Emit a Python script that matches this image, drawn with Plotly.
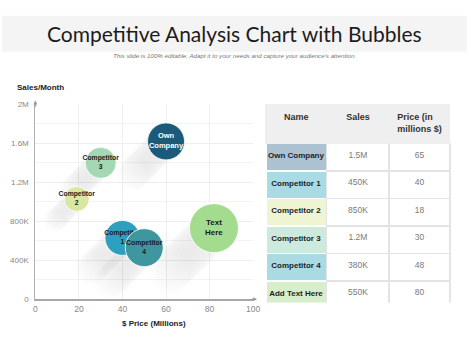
import plotly.graph_objects as go

# ---------------- data ----------------
names = ["Own Company", "Competitor 3", "Competitor 2", "Text Here", "Competitor 1", "Competitor 4"]
bubble_labels = ["Own<br>Company", "Competitor<br>3", "Competitor<br>2", "Text<br>Here", "Competitor<br>1", "Competitor<br>4"]
price = [60, 30, 19, 82, 40, 50]
sales = [1620000, 1400000, 1030000, 730000, 630000, 530000]
bubble_size = [37, 31, 25, 49, 35, 38]
bubble_colors = ["#1b5a78", "#a3d8b3", "#d8e8a2", "#a3dc8e", "#2f9fbf", "#3e979f"]
label_colors = ["white", "#1a1a1a", "#1a1a1a", "#1a1a1a", "#1a1a1a", "#1a1a1a"]
label_sizes = [7.5, 6.8, 6.8, 8, 6.8, 6.8]

x_ticks = [0, 20, 40, 60, 80, 100]
y_ticks = [0, 400000, 800000, 1200000, 1600000, 2000000]
y_tick_text = ["0", "400K", "800K", "1.2M", "1.6M", "2M"]

table_names = ["Own Company", "Competitor 1", "Competitor 2", "Competitor 3", "Competitor 4", "Add Text Here"]
table_sales = ["1.5M", "450K", "850K", "1.2M", "380K", "550K"]
table_price = ["65", "40", "18", "30", "48", "80"]
table_name_colors = ["#adc2d1", "#a8dbe4", "#eff4d3", "#cdeadf", "#abdbe2", "#d6eecb"]
table_headers = ["Name", "Sales", "Price (in<br>millions $)"]

W, H = 474, 355
FONT = "Liberation Sans, Arial, sans-serif"
NB = "\u00a0"

fig = go.Figure()

# long shadows (drawn first, under bubbles)
px_x = 100 / 222.0      # data units per pixel on x
px_y = 2000000 / 200.0  # data units per pixel on y
for i in range(len(names)):
    sx, sy = [], []
    steps = 14
    step_px = bubble_size[i] * 0.065
    for k in range(1, steps + 1):
        sx.append(price[i] - k * step_px * px_x)
        sy.append(sales[i] - k * step_px * px_y)
    fig.add_trace(go.Scatter(
        x=sx, y=sy, mode="markers", hoverinfo="skip", showlegend=False,
        marker=dict(size=bubble_size[i] * 0.88, color="rgba(150,150,150,0.022)", line=dict(width=0)),
        cliponaxis=False,
    ))

for i in range(len(names)):
    fig.add_trace(go.Scatter(
        x=[price[i]], y=[sales[i]], mode="markers+text", showlegend=False,
        text=["<b>" + bubble_labels[i] + "</b>"], textposition="middle center",
        textfont=dict(family=FONT, size=label_sizes[i], color=label_colors[i]),
        marker=dict(size=bubble_size[i], color=bubble_colors[i], opacity=1,
                    line=dict(width=1, color="rgba(255,255,255,0.8)")),
        name=names[i], cliponaxis=False,
    ))

fig.add_trace(go.Table(
    domain=dict(x=[269 / W, 457 / W], y=[1 - 307 / H, 1 - 103 / H]),
    columnwidth=[62, 64, 62],
    header=dict(
        values=["<b>" + h + "</b>" for h in table_headers],
        fill_color="#efefef", line=dict(color="#efefef", width=1),
        align="center", height=39,
        font=dict(family=FONT, size=9, color="#333333"),
    ),
    cells=dict(
        values=[["<b>" + n.replace(" ", NB) + "</b>" for n in table_names], table_sales, table_price],
        fill_color=[table_name_colors, ["white"] * 6, ["white"] * 6],
        line=dict(color=["white", "#e3e3e3", "#e3e3e3"], width=1.5),
        align="center", height=27.5,
        font=dict(family=FONT, size=[8, 8.5, 8.5], color=["#1e1e1e", "#7a7a7a", "#7a7a7a"]),
    ),
))

fig.update_layout(
    width=W, height=H,
    margin=dict(l=0, r=0, t=0, b=0),
    paper_bgcolor="white", plot_bgcolor="white",
    font=dict(family=FONT),
    xaxis=dict(
        domain=[34 / W, 256 / W], range=[0, 100],
        tickvals=x_ticks, ticktext=[str(v) for v in x_ticks],
        tickfont=dict(size=8.5, color="#888888"),
        showgrid=True, gridcolor="#eeeeee", gridwidth=1,
        showline=True, linecolor="#a8a8a8", linewidth=2,
        zeroline=False, ticks="", fixedrange=True,
    ),
    yaxis=dict(
        domain=[1 - 303 / H, 1 - 103 / H], range=[0, 2000000],
        tickvals=y_ticks, ticktext=y_tick_text,
        tickfont=dict(size=8, color="#888888"),
        showgrid=True, gridcolor="#eeeeee", gridwidth=1,
        minor=dict(showgrid=True, gridcolor="#f3f3f3", dtick=200000),
        showline=True, linecolor="#b0b0b0", linewidth=1,
        zeroline=False, ticks="", ticklabelstandoff=4, fixedrange=True,
    ),
    shapes=[
        dict(type="rect", xref="paper", yref="paper", x0=0, x1=1,
             y0=1 - 49 / H, y1=1 - 12 / H, fillcolor="#f4f4f4", line=dict(width=0), layer="below"),
    ],
    annotations=[
        dict(text="Competitive Analysis Chart with Bubbles", xref="paper", yref="paper",
             x=0.5, y=1 - 30 / H, showarrow=False, xanchor="center", yanchor="middle",
             font=dict(family="Lato, " + FONT, size=21, color="#1c1c1c")),
        dict(text="<i>This slide is 100% editable. Adapt it to your needs and capture your audience's attention.</i>",
             xref="paper", yref="paper", x=0.5, y=1 - 53 / H, showarrow=False,
             xanchor="center", yanchor="middle",
             font=dict(family=FONT, size=6.2, color="#777777")),
        dict(text="<b>Sales/Month</b>", xref="paper", yref="paper", x=13 / W, y=1 - 86 / H,
             showarrow=False, xanchor="left", yanchor="middle",
             font=dict(family=FONT, size=8, color="#222222")),
        dict(text="<b>$ Price (Millions)</b>", xref="paper", yref="paper", x=155 / W, y=1 - 328 / H,
             showarrow=False, xanchor="center", yanchor="middle",
             font=dict(family=FONT, size=8, color="#222222")),
        dict(text="", xref="paper", yref="paper", x=34 / W, y=1 - 99 / H, ax=0, ay=8,
             showarrow=True, arrowhead=2, arrowsize=0.8, arrowwidth=1, arrowcolor="#999999"),
        dict(text="", xref="paper", yref="paper", x=260 / W, y=1 - 303 / H, ax=-8, ay=0,
             showarrow=True, arrowhead=2, arrowsize=0.8, arrowwidth=1, arrowcolor="#999999"),
    ],
)

fig.write_html(
    "out.html", config={"displayModeBar": False},
    post_script=(
        "document.documentElement.style.margin='0';document.documentElement.style.overflow='hidden';"
        "document.body.style.margin='0';document.body.style.padding='0';"
        "document.body.style.overflow='hidden';document.body.style.height='355px';"
    ),
)
